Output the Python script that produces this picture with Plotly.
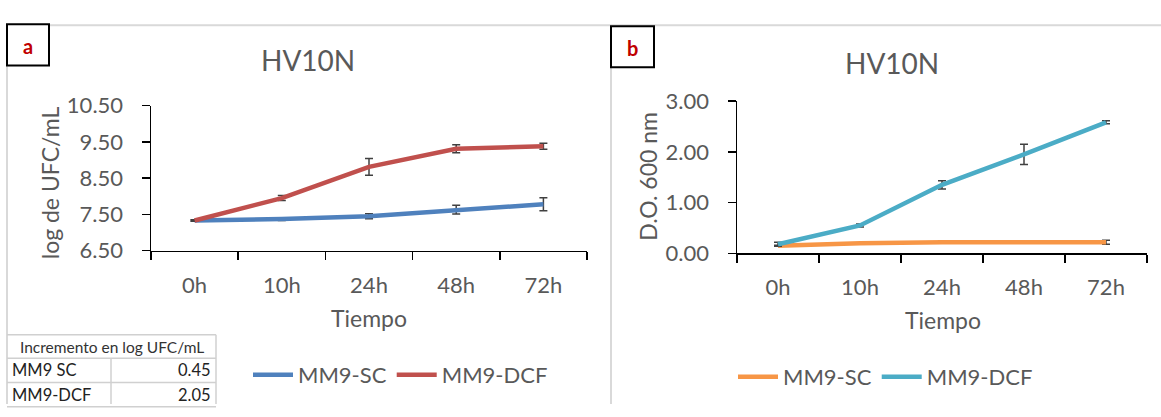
import plotly.graph_objects as go

W, H = 1161, 417

# ---------------- data ----------------
categories = ["0h", "10h", "24h", "48h", "72h"]

ufc_sc = [7.33, 7.37, 7.45, 7.63, 7.78]
ufc_sc_err = [0.02, 0.04, 0.07, 0.12, 0.18]
ufc_dcf = [7.33, 7.95, 8.81, 9.31, 9.38]
ufc_dcf_err = [0.02, 0.07, 0.23, 0.11, 0.08]

od_sc = [0.15, 0.20, 0.22, 0.22, 0.22]
od_sc_err = [0.01, 0.01, 0.02, 0.02, 0.04]
od_dcf = [0.18, 0.55, 1.35, 1.95, 2.58]
od_dcf_err = [0.04, 0.03, 0.08, 0.20, 0.03]

series_names = ["MM9-SC", "MM9-DCF"]
table_title = "Incremento en log UFC/mL"
table_labels = ["MM9 SC", "MM9-DCF"]
table_values = ["0.45", "2.05"]

# ---------------- style ----------------
FONT = "Lato"
GRAY = "#595959"
C_BLUE, C_RED = "#4F81BD", "#C0504D"
C_ORANGE, C_TEAL = "#F79646", "#4BACC6"
ERR = "#404040"


def px(x):
    return x / W


def py(y):
    return 1 - y / H


fig = go.Figure()


def add_series(x_ax, y_ax, vals, errs, name, color, legend):
    fig.add_trace(go.Scatter(
        x=categories, y=vals, name=name, mode="lines",
        line=dict(color=color, width=4.5),
        error_y=dict(type="data", array=errs, visible=True, color=ERR,
                     thickness=1.5, width=4),
        xaxis=x_ax, yaxis=y_ax, legend=legend,
    ))


add_series("x", "y", ufc_sc, ufc_sc_err, series_names[0], C_BLUE, "legend")
add_series("x", "y", ufc_dcf, ufc_dcf_err, series_names[1], C_RED, "legend")
add_series("x2", "y2", od_sc, od_sc_err, series_names[0], C_ORANGE, "legend2")
add_series("x2", "y2", od_dcf, od_dcf_err, series_names[1], C_TEAL, "legend2")

xcommon = dict(type="category", tickson="boundaries", ticks="outside",
               ticklen=8, tickwidth=1.5, tickcolor="black",
               showline=True, linecolor="black", linewidth=1.5,
               showgrid=False, zeroline=False, range=[-0.5, 4.5],
               tickfont=dict(family=FONT, size=22, color=GRAY),
               ticklabelstandoff=14)
ycommon = dict(ticks="outside", ticklen=8, tickwidth=1.5, tickcolor="black",
               showline=True, linecolor="black", linewidth=1.5,
               showgrid=False, zeroline=False, tickformat=".2f", dtick=1,
               tickfont=dict(family=FONT, size=22, color=GRAY),
               ticklabelstandoff=14)

LEGFONT = dict(family=FONT, size=22, color=GRAY)

fig.update_layout(
    width=W, height=H,
    margin=dict(l=0, r=0, t=0, b=0),
    paper_bgcolor="white", plot_bgcolor="white",
    font=dict(family=FONT, color=GRAY),
    hovermode=False,
    xaxis=dict(domain=[px(151), px(587)], anchor="y", **xcommon),
    yaxis=dict(domain=[py(253), py(98)], anchor="x", range=[6.5, 10.5],
               tick0=6.5, **ycommon),
    xaxis2=dict(domain=[px(737), px(1147)], anchor="y2", **xcommon),
    yaxis2=dict(domain=[py(256), py(93)], anchor="x2", range=[0, 3],
                tick0=0, **ycommon),
    legend=dict(orientation="h", x=px(248), y=py(386), xanchor="left",
                yanchor="middle", font=LEGFONT,
                bgcolor="rgba(0,0,0,0)", itemwidth=40, tracegroupgap=0),
    legend2=dict(orientation="h", x=px(733), y=py(388), xanchor="left",
                 yanchor="middle", font=LEGFONT,
                 bgcolor="rgba(0,0,0,0)", itemwidth=40, tracegroupgap=0),
)

shapes = []
ann = []

# light panel borders
BORDER = "#d9d9d9"
shapes.append(dict(type="line", xref="paper", yref="paper", x0=px(7), x1=1,
                   y0=py(12), y1=py(12), line=dict(color=BORDER, width=2)))
shapes.append(dict(type="line", xref="paper", yref="paper", x0=px(7), x1=px(7),
                   y0=py(12), y1=0, line=dict(color=BORDER, width=2)))
shapes.append(dict(type="line", xref="paper", yref="paper", x0=px(611), x1=px(611),
                   y0=py(12), y1=0, line=dict(color=BORDER, width=2)))

# panel letter boxes
for (x0, x1, y0, y1, letter) in [(7, 49, 11, 55, "a"), (611, 654, 13, 57, "b")]:
    shapes.append(dict(type="rect", xref="paper", yref="paper",
                       x0=px(x0), x1=px(x1), y0=py(y1), y1=py(y0),
                       line=dict(color="black", width=2), fillcolor="white"))
    ann.append(dict(x=px((x0 + x1) / 2), y=py((y0 + y1) / 2 + 1), xref="paper",
                    yref="paper", text="<b>%s</b>" % letter, showarrow=False,
                    font=dict(family=FONT, size=20, color="#C00000"),
                    xanchor="center", yanchor="middle"))

# titles
for (cx, cy) in [(308, 49), (892, 52)]:
    ann.append(dict(x=px(cx), y=py(cy), xref="paper", yref="paper",
                    text="HV10N", showarrow=False, xanchor="center",
                    yanchor="middle",
                    font=dict(family=FONT, size=28, color=GRAY)))

# axis titles
ann.append(dict(x=px(50), y=py(181), xref="paper", yref="paper",
                text="log de UFC/mL", textangle=-90, showarrow=False,
                xanchor="center", yanchor="middle",
                font=dict(family=FONT, size=23, color=GRAY)))
ann.append(dict(x=px(648), y=py(174), xref="paper", yref="paper",
                text="D.O. 600 nm", textangle=-90, showarrow=False,
                xanchor="center", yanchor="middle",
                font=dict(family=FONT, size=23, color=GRAY)))
for (cx, cy) in [(369, 325), (943, 327)]:
    ann.append(dict(x=px(cx), y=py(cy), xref="paper", yref="paper",
                    text="Tiempo", showarrow=False, xanchor="center",
                    yanchor="middle",
                    font=dict(family=FONT, size=23, color=GRAY)))

# small table
TL = "#d0d0d0"
tx0, tsplit, tx1 = 7, 111, 216
rows_y = [343, 368, 394, 420]
for yv in rows_y:
    shapes.append(dict(type="line", xref="paper", yref="paper", x0=px(tx0),
                       x1=px(tx1), y0=py(yv), y1=py(yv),
                       line=dict(color=TL, width=1.5)))
shapes.append(dict(type="line", xref="paper", yref="paper", x0=px(tx1),
                   x1=px(tx1), y0=py(343), y1=0, line=dict(color=TL, width=1.5)))
shapes.append(dict(type="line", xref="paper", yref="paper", x0=px(tsplit),
                   x1=px(tsplit), y0=py(368), y1=0, line=dict(color=TL, width=1.5)))
ann.append(dict(x=px((tx0 + tx1) / 2), y=py(356), xref="paper", yref="paper",
                text=table_title, showarrow=False, xanchor="center",
                yanchor="middle", font=dict(family=FONT, size=15.5, color="#333333")))
for i, (lab, val) in enumerate(zip(table_labels, table_values)):
    yc = (rows_y[i + 1] + rows_y[i + 2]) / 2
    ann.append(dict(x=px(tx0 + 3), y=py(yc), xref="paper", yref="paper",
                    text=lab, showarrow=False, xanchor="left", yanchor="middle",
                    font=dict(family=FONT, size=16.5, color="#222222")))
    ann.append(dict(x=px(tx1 - 3), y=py(yc), xref="paper", yref="paper",
                    text=val, showarrow=False, xanchor="right", yanchor="middle",
                    font=dict(family=FONT, size=16.5, color="#222222")))

fig.update_layout(shapes=shapes, annotations=ann)

fig.write_html(
    "out.html",
    config={"displayModeBar": False, "staticPlot": True},
    post_script="document.body.style.margin='0';document.body.style.overflow='hidden';",
)
